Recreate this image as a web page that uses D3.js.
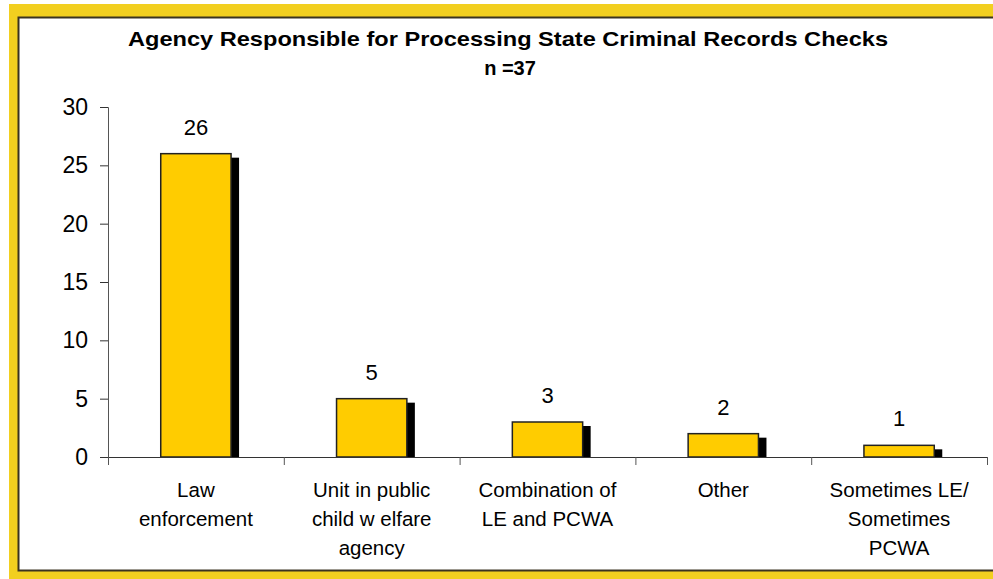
<!DOCTYPE html>
<html>
<head>
<meta charset="utf-8">
<script src="https://cdn.jsdelivr.net/npm/d3@7"></script>
<style>
body { margin: 0; background: #fff; }
text { font-family: "Liberation Sans", Arial, sans-serif; }
</style>
</head>
<body>
<script>
// chart data
let categories = [
  ["Law", "enforcement"],
  ["Unit in public", "child w elfare", "agency"],
  ["Combination of", "LE and PCWA"],
  ["Other"],
  ["Sometimes LE/", "Sometimes", "PCWA"]
]
let values = [26, 5, 3, 2, 1]
let yTicks = [0, 5, 10, 15, 20, 25, 30]

var svg = d3.select("body").append("svg")
  .attr("width", 993)
  .attr("height", 579)

// yellow frame
svg.append("rect")
  .attr("x", 9).attr("y", 4)
  .attr("width", 984).attr("height", 575)
  .style("fill", "#f2cf1f")
svg.append("rect")
  .attr("x", 18.5).attr("y", 17.5)
  .attr("width", 990).attr("height", 553)
  .style("fill", "#fff")
  .style("stroke", "#3a3320")
  .style("stroke-width", 2)

// title
svg.append("text")
  .attr("x", 508).attr("y", 46)
  .attr("text-anchor", "middle")
  .style("font-size", "21px")
  .style("font-weight", "bold")
  .attr("textLength", 760)
  .attr("lengthAdjust", "spacingAndGlyphs")
  .text("Agency Responsible for Processing State Criminal Records Checks")
svg.append("text")
  .attr("x", 510).attr("y", 75)
  .attr("text-anchor", "middle")
  .style("font-size", "20px")
  .style("font-weight", "bold")
  .text("n =37")

let x = d3.scaleBand()
  .domain(d3.range(values.length))
  .range([108, 987])
  .paddingInner(0.6)
  .paddingOuter(0.3)

let y = d3.scaleLinear()
  .domain([0, 30])
  .range([457, 107])

// y axis
let yAxis = svg.append("g")
  .attr("transform", "translate(108,0)")
  .call(d3.axisLeft(y).tickValues(yTicks).tickSize(8).tickPadding(12))
yAxis.select(".domain").attr("stroke", "#555")
yAxis.selectAll("text").style("font-size", "23px").style("font-family", "Liberation Sans, Arial")
yAxis.selectAll(".tick line").attr("stroke", "#333")

// shadows
svg.selectAll(".shadow")
  .data(values)
  .enter().append("rect")
  .attr("x", (d, i) => x(i) + 8)
  .attr("y", d => y(d) + 4)
  .attr("width", x.bandwidth())
  .attr("height", d => 457 - y(d) - 4)
  .style("fill", "#000")

// bars
svg.selectAll(".bar")
  .data(values)
  .enter().append("rect")
  .attr("x", (d, i) => x(i))
  .attr("y", d => y(d))
  .attr("width", x.bandwidth())
  .attr("height", d => 457 - y(d))
  .style("fill", "#ffcc00")
  .style("stroke", "#222")
  .style("stroke-width", 1.5)

// x axis line + ticks
let bounds = d3.range(values.length + 1).map(i => 108 + i * (987 - 108) / values.length)
svg.append("line")
  .attr("x1", 100).attr("x2", 987)
  .attr("y1", 457.5).attr("y2", 457.5)
  .style("stroke", "#333")
svg.selectAll(".xtick")
  .data(bounds)
  .enter().append("line")
  .attr("x1", d => d + 0.5).attr("x2", d => d + 0.5)
  .attr("y1", 457).attr("y2", 465)
  .style("stroke", "#555")

// value labels
svg.selectAll(".val")
  .data(values)
  .enter().append("text")
  .attr("x", (d, i) => x(i) + x.bandwidth() / 2)
  .attr("y", d => y(d) - 19)
  .attr("text-anchor", "middle")
  .style("font-size", "22px")
  .text(d => d)

// category labels
categories.forEach(function (lines, i) {
  let cx = x(i) + x.bandwidth() / 2
  lines.forEach(function (s, j) {
    svg.append("text")
      .attr("x", cx)
      .attr("y", 497 + j * 29)
      .attr("text-anchor", "middle")
      .style("font-size", "20.5px")
      .text(s)
  })
})
</script>
</body>
</html>
